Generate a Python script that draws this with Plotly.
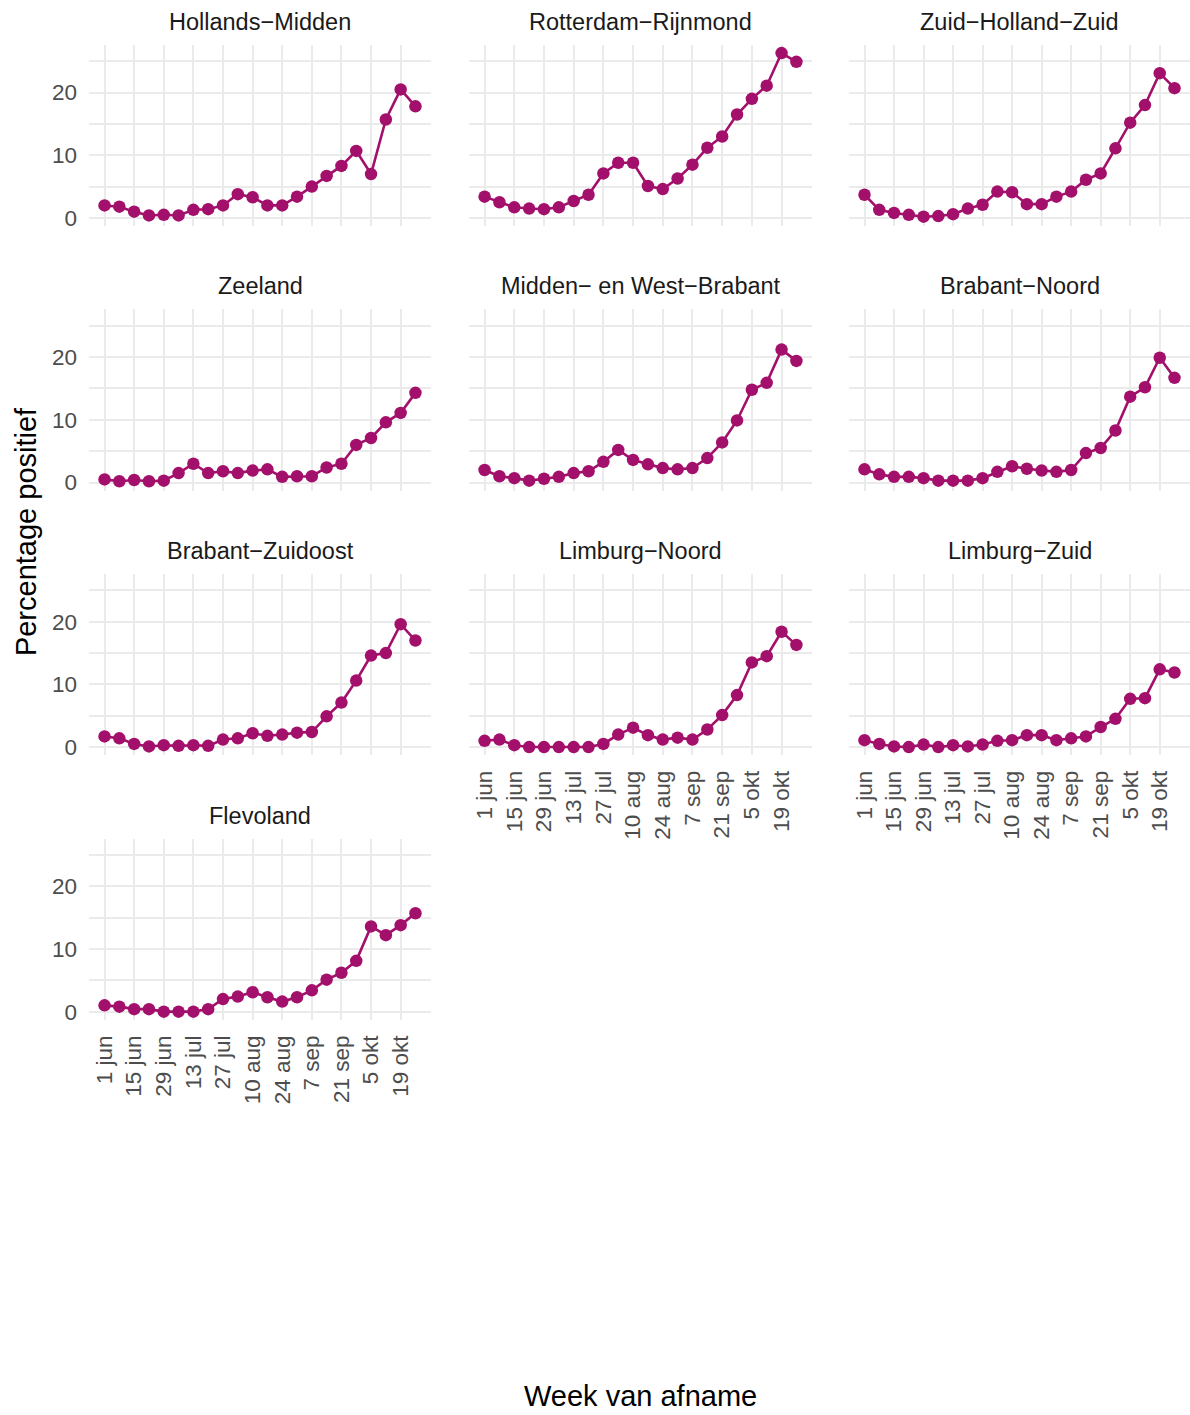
import plotly.graph_objects as go
import pandas as pd

weeks = ["2020-06-01", "2020-06-08", "2020-06-15", "2020-06-22", "2020-06-29", "2020-07-06",
         "2020-07-13", "2020-07-20", "2020-07-27", "2020-08-03", "2020-08-10", "2020-08-17",
         "2020-08-24", "2020-08-31", "2020-09-07", "2020-09-14", "2020-09-21", "2020-09-28",
         "2020-10-05", "2020-10-12", "2020-10-19", "2020-10-26"]

tick_dates = ["2020-06-01", "2020-06-15", "2020-06-29", "2020-07-13", "2020-07-27", "2020-08-10",
              "2020-08-24", "2020-09-07", "2020-09-21", "2020-10-05", "2020-10-19"]
tick_labels = ["1 jun", "15 jun", "29 jun", "13 jul", "27 jul", "10 aug",
               "24 aug", "7 sep", "21 sep", "5 okt", "19 okt"]

regions = ["Hollands−Midden", "Rotterdam−Rijnmond", "Zuid−Holland−Zuid",
           "Zeeland", "Midden− en West−Brabant", "Brabant−Noord",
           "Brabant−Zuidoost", "Limburg−Noord", "Limburg−Zuid", "Flevoland"]

hollands_midden = [2.0, 1.8, 1.0, 0.4, 0.5, 0.4, 1.3, 1.4, 2.0, 3.8, 3.3, 2.0,
                   2.0, 3.4, 5.0, 6.7, 8.3, 10.7, 7.0, 15.7, 20.5, 17.8]
rotterdam_rijnmond = [3.4, 2.5, 1.7, 1.5, 1.4, 1.7, 2.7, 3.7, 7.1, 8.8, 8.8, 5.1,
                      4.6, 6.3, 8.5, 11.2, 13.0, 16.5, 19.0, 21.1, 26.3, 24.9]
zuid_holland_zuid = [3.7, 1.3, 0.8, 0.5, 0.2, 0.3, 0.6, 1.5, 2.1, 4.2, 4.1, 2.2,
                     2.2, 3.4, 4.2, 6.1, 7.1, 11.1, 15.2, 18.0, 23.1, 20.7]
zeeland = [0.5, 0.2, 0.4, 0.2, 0.3, 1.5, 3.0, 1.5, 1.8, 1.5, 1.9, 2.1,
           0.9, 1.0, 1.0, 2.4, 3.0, 6.0, 7.1, 9.6, 11.1, 14.3]
midden_west_brabant = [2.0, 1.0, 0.7, 0.3, 0.6, 0.9, 1.5, 1.8, 3.3, 5.2, 3.6, 2.9,
                       2.3, 2.1, 2.3, 3.9, 6.4, 9.9, 14.8, 15.9, 21.2, 19.4]
brabant_noord = [2.1, 1.3, 0.9, 0.9, 0.7, 0.3, 0.3, 0.3, 0.7, 1.7, 2.6, 2.2,
                 1.9, 1.7, 2.0, 4.7, 5.5, 8.3, 13.7, 15.2, 19.9, 16.7]
brabant_zuidoost = [1.7, 1.4, 0.5, 0.1, 0.3, 0.2, 0.3, 0.2, 1.2, 1.4, 2.2, 1.8,
                    2.0, 2.3, 2.4, 4.9, 7.1, 10.6, 14.6, 15.0, 19.6, 17.0]
limburg_noord = [1.0, 1.2, 0.3, 0.0, 0.0, 0.0, 0.0, 0.0, 0.5, 2.0, 3.1, 1.9,
                 1.2, 1.5, 1.2, 2.8, 5.1, 8.3, 13.5, 14.5, 18.4, 16.3]
limburg_zuid = [1.1, 0.5, 0.1, 0.0, 0.4, 0.0, 0.3, 0.1, 0.4, 1.0, 1.1, 1.9,
                1.9, 1.1, 1.4, 1.7, 3.2, 4.5, 7.7, 7.8, 12.4, 11.9]
flevoland = [1.0, 0.8, 0.4, 0.4, 0.0, 0.0, 0.0, 0.4, 2.0, 2.4, 3.1, 2.3,
             1.6, 2.3, 3.4, 5.1, 6.2, 8.1, 13.6, 12.2, 13.8, 15.7]

series = [hollands_midden, rotterdam_rijnmond, zuid_holland_zuid, zeeland,
          midden_west_brabant, brabant_noord, brabant_zuidoost, limburg_noord,
          limburg_zuid, flevoland]

W, H = 1190, 1415
COLOR = "#A3106C"
GRID = "#EBEBEB"
FONT = "Liberation Sans, Arial, sans-serif"

col_px = [(89, 431), (469, 812), (849, 1190)]
row_top = [45, 310.5, 576, 841.5]
panel_h = 182

# expanded ranges like ggplot (5%)
d0 = pd.Timestamp(weeks[0]); d1 = pd.Timestamp(weeks[-1])
span = d1 - d0
xr = [(d0 - span * 0.05).isoformat(), (d1 + span * 0.05).isoformat()]
all_vals = [v for s in series for v in s]
ymin, ymax = min(all_vals), max(all_vals)
yspan = ymax - ymin
yr = [ymin - 0.05 * yspan, ymax + 0.05 * yspan]

fig = go.Figure()
layout = {}
annotations = []
n = len(series)
for i, (name, vals) in enumerate(zip(regions, series)):
    r, c = divmod(i, 3)
    k = i + 1
    xa = "x" if k == 1 else f"x{k}"
    ya = "y" if k == 1 else f"y{k}"
    fig.add_trace(go.Scatter(
        x=weeks, y=vals, mode="lines+markers", xaxis=xa, yaxis=ya,
        line=dict(color=COLOR, width=2.6),
        marker=dict(color=COLOR, size=12.5),
        showlegend=False, hoverinfo="x+y"))
    x0, x1 = col_px[c]
    top = row_top[r]
    bot = top + panel_h
    below = i + 3
    show_x = below >= n
    show_y = (c == 0)
    layout["xaxis" if k == 1 else f"xaxis{k}"] = dict(
        domain=[x0 / W, x1 / W], anchor=ya, type="date", range=xr,
        tickvals=tick_dates, ticktext=tick_labels, tickangle=-90,
        showticklabels=show_x, showgrid=True, gridcolor=GRID, gridwidth=1.5,
        zeroline=False, showline=False, ticks="",
        tickfont=dict(family=FONT, size=22.5, color="#4D4D4D"),
        ticklabelstandoff=10)
    layout["yaxis" if k == 1 else f"yaxis{k}"] = dict(
        domain=[1 - bot / H, 1 - top / H], anchor=xa, range=yr,
        tickvals=[0, 10, 20], showticklabels=show_y, showgrid=True,
        gridcolor=GRID, gridwidth=1.5, zeroline=False, showline=False, ticks="",
        minor=dict(tickvals=[5, 15, 25], showgrid=True, gridcolor=GRID, gridwidth=1.5),
        tickfont=dict(family=FONT, size=22.5, color="#4D4D4D"),
        ticklabelstandoff=11)
    annotations.append(dict(
        text=name, xref="paper", yref="paper", x=(x0 + x1) / 2 / W,
        y=1 - (top - 23) / H, xanchor="center", yanchor="middle", showarrow=False,
        font=dict(family=FONT, size=23.5, color="#1A1A1A")))

annotations.append(dict(
    text="Percentage positief", xref="paper", yref="paper", x=26 / W, y=1 - 534 / H,
    xanchor="center", yanchor="middle", textangle=-90, showarrow=False,
    font=dict(family=FONT, size=29, color="#000000")))
annotations.append(dict(
    text="Week van afname", xref="paper", yref="paper", x=640 / W, y=1 - 1401 / H,
    xanchor="center", yanchor="middle", showarrow=False,
    font=dict(family=FONT, size=29, color="#000000")))

fig.update_layout(
    width=W, height=H, margin=dict(l=0, r=0, t=0, b=0),
    paper_bgcolor="white", plot_bgcolor="white",
    annotations=annotations, **layout)

fig.write_html("out.html", config={"displayModeBar": False},
               post_script="document.body.style.margin='0';document.body.style.overflow='hidden';")
